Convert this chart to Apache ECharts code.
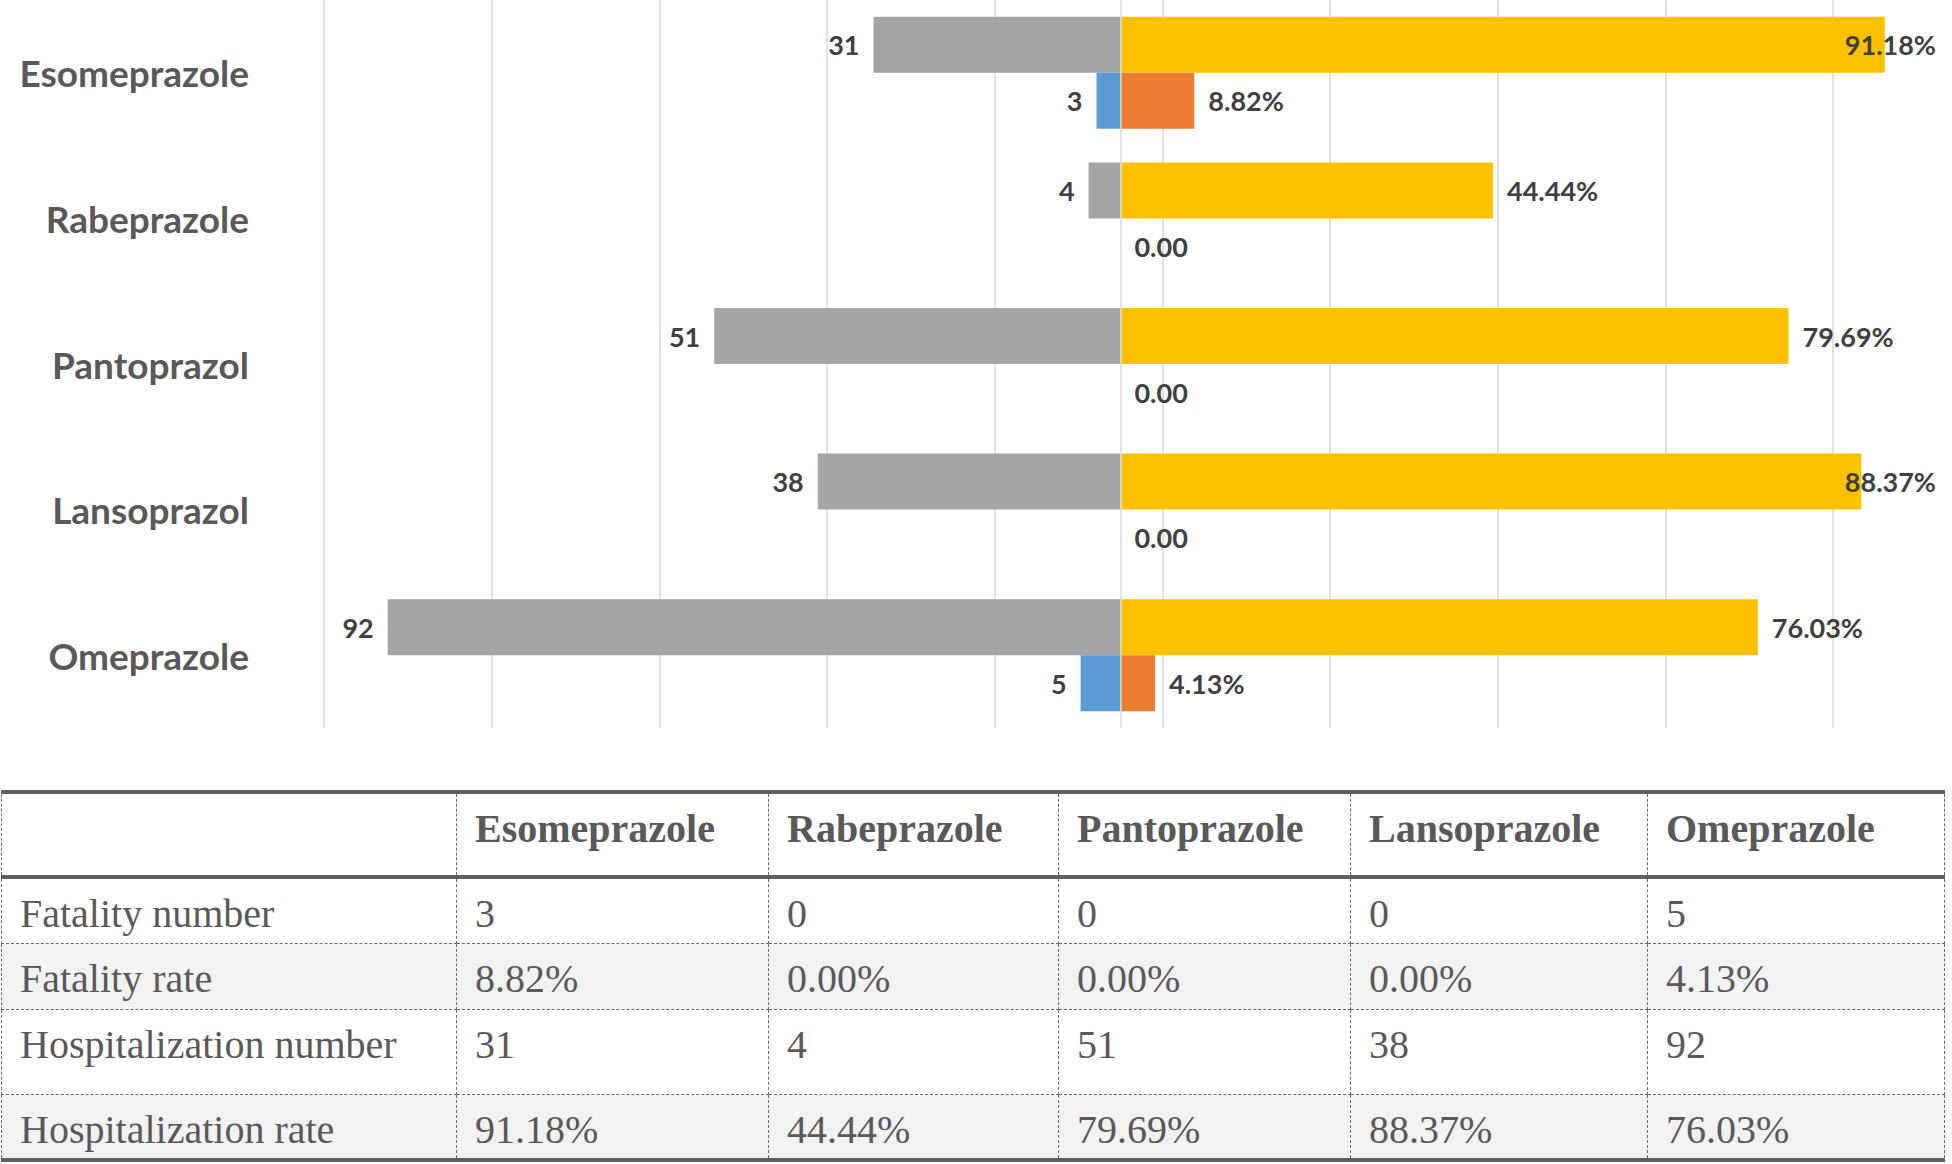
<!DOCTYPE html>
<html>
<head>
<meta charset="utf-8">
<script src="https://cdn.jsdelivr.net/npm/echarts@6/dist/echarts.min.js"></script>
<style>
  html, body { margin:0; padding:0; background:#ffffff; }
  #chart { position:absolute; left:0; top:0; width:1952px; height:760px; }
  #tbl { position:absolute; left:1px; top:790px; border-collapse:collapse; table-layout:fixed; width:1943px;
         font-family:'Liberation Serif','Times New Roman',serif; font-size:40px; color:#595959; }
  #tbl td, #tbl th { border:1px dashed #6a6a6a; padding:15px 0 0 18px; vertical-align:top; text-align:left;
         line-height:40px; white-space:nowrap; overflow:hidden; }
  #tbl thead th { border-top:4px solid #5f5f5f; border-bottom:4px solid #5f5f5f; font-weight:bold; }
  #tbl tbody tr:last-child td { border-bottom:4px solid #5f5f5f; }
  #tbl tbody tr.shade td { background:#F2F2F2; }
</style>
</head>
<body>
<div id="chart"></div>
<table id="tbl"></table>
<script>
// ---- data ----
const categories = ['Esomeprazole', 'Rabeprazole', 'Pantoprazol', 'Lansoprazol', 'Omeprazole'];
const hospitalizationNumber = [31, 4, 51, 38, 92];
const hospitalizationRate = [91.18, 44.44, 79.69, 88.37, 76.03];
const fatalityNumber = [3, 0, 0, 0, 5];
const fatalityRate = [8.82, 0, 0, 0, 4.13];
const tableColumns = ['Esomeprazole', 'Rabeprazole', 'Pantoprazole', 'Lansoprazole', 'Omeprazole'];
const tableRowLabels = ['Fatality number', 'Fatality rate', 'Hospitalization number', 'Hospitalization rate'];

// ---- chart ----
const chart = echarts.init(document.getElementById('chart'), null, { renderer: 'svg' });

const pctMin = -95, pctMax = 98, pctStep = 20;
const cntMin = -100;
const cntMax = -cntMin * pctMax / -pctMin; // keeps both zero points aligned

const labelFont = { fontFamily: 'Lato', fontWeight: 'bold', fontSize: 27, color: '#404040' };

function clampRight(params) {
  const limit = chart.getWidth() - 16;
  const r = params.labelRect;
  if (r.x + r.width > limit) {
    return { x: limit - r.width, y: r.y, align: 'left', verticalAlign: 'top' };
  }
  return {};
}

const option = {
  animation: false,
  grid: { left: 324, top: 0, width: 1618, height: 728, containLabel: false },
  xAxis: [
    { type: 'value', min: cntMin, max: cntMax, show: false },
    { type: 'value', min: pctMin, max: pctMax, interval: pctStep, position: 'bottom',
      axisLabel: { show: false }, axisLine: { show: false }, axisTick: { show: false },
      splitLine: { show: true, showMaxLine: false, lineStyle: { color: '#D9D9D9', width: 1.5 } } }
  ],
  yAxis: {
    type: 'category', data: categories, inverse: true,
    axisLine: { show: false }, axisTick: { show: false }, splitLine: { show: false },
    axisLabel: { margin: 75, fontFamily: 'Lato', fontWeight: 'bold', fontSize: 37, color: '#595959' }
  },
  series: [
    { name: 'Hospitalization number', type: 'bar', xAxisIndex: 0, stack: 'hosp', barWidth: 56, barGap: '0%',
      data: hospitalizationNumber.map(v => -v),
      itemStyle: { color: '#A5A5A5' },
      label: Object.assign({ show: true, position: 'left', distance: 14,
        formatter: p => String(Math.abs(p.value)) }, labelFont) },
    { name: 'Hospitalization rate', type: 'bar', xAxisIndex: 1, stack: 'hosp', barWidth: 56, barGap: '0%',
      data: hospitalizationRate,
      itemStyle: { color: '#FFC000' },
      label: Object.assign({ show: true, position: 'right', distance: 14,
        formatter: p => p.value === 0 ? '0.00' : p.value.toFixed(2) + '%' }, labelFont),
      labelLayout: clampRight },
    { name: 'Fatality number', type: 'bar', xAxisIndex: 0, stack: 'fatal', barWidth: 56, barGap: '0%',
      data: fatalityNumber.map(v => -v),
      itemStyle: { color: '#5B9BD5' },
      label: Object.assign({ show: true, position: 'left', distance: 14,
        formatter: p => p.value === 0 ? '' : String(Math.abs(p.value)) }, labelFont) },
    { name: 'Fatality rate', type: 'bar', xAxisIndex: 1, stack: 'fatal', barWidth: 56, barGap: '0%',
      data: fatalityRate,
      itemStyle: { color: '#ED7D31' },
      label: Object.assign({ show: true, position: 'right', distance: 14,
        formatter: p => p.value === 0 ? '0.00' : p.value.toFixed(2) + '%' }, labelFont),
      labelLayout: clampRight,
      markLine: { silent: true, symbol: 'none', z: 10, label: { show: false },
        lineStyle: { color: '#D9D9D9', type: 'solid', width: 1.5 },
        data: [{ xAxis: 0 }] } }
  ]
};
chart.setOption(option);

// ---- table ----
const tableValues = [
  fatalityNumber.map(v => String(v)),
  fatalityRate.map(v => v.toFixed(2) + '%'),
  hospitalizationNumber.map(v => String(v)),
  hospitalizationRate.map(v => v.toFixed(2) + '%')
];
const colWidths = [455, 312, 290, 292, 297, 297];
const rowHeights = [66, 66, 85, 66];
const tbl = document.getElementById('tbl');
let html = '<colgroup>' + colWidths.map(w => '<col style="width:' + w + 'px">').join('') + '</colgroup>';
html += '<thead><tr style="height:85px"><th></th>' + tableColumns.map(c => '<th>' + c + '</th>').join('') + '</tr></thead><tbody>';
tableRowLabels.forEach((r, i) => {
  html += '<tr class="' + (i % 2 === 1 ? 'shade' : '') + '" style="height:' + rowHeights[i] + 'px"><td>' + r + '</td>' +
    tableValues[i].map(v => '<td>' + v + '</td>').join('') + '</tr>';
});
html += '</tbody>';
tbl.innerHTML = html;
</script>
</body>
</html>
